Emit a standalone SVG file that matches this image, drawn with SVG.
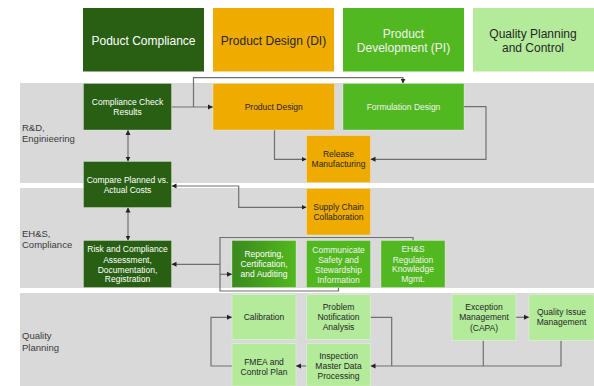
<svg xmlns="http://www.w3.org/2000/svg" width="594" height="386" viewBox="0 0 594 386">
<style>
text{font-family:"Liberation Sans",Arial,sans-serif;}
.hdr{font-size:12px;text-anchor:middle;}
.lbl{font-size:9.5px;fill:#3a3a3a;}
.nt{font-size:8.5px;text-anchor:middle;}
.w{fill:#ffffff;}
.d{fill:#262626;}
.dg{fill:#285F13;}
.or{fill:#F0AB00;}
.mg{fill:#51B81F;}
.lg{fill:#B3EB9B;}
.box{stroke:#ffffff;stroke-opacity:0.3;stroke-width:1;}
.band{fill:#D9D9D9;}
.c{fill:none;stroke:#707070;stroke-width:1.2;}
</style>
<defs>
<marker id="ah" markerUnits="userSpaceOnUse" markerWidth="6" markerHeight="6" refX="5" refY="3" orient="auto-start-reverse">
<path d="M0,0.5 L5,3 L0,5.5 Z" fill="#222"/>
</marker>
<linearGradient id="gr" x1="0" y1="0" x2="1" y2="0">
<stop offset="0" stop-color="#3A8A1C"/>
<stop offset="1" stop-color="#52B81F"/>
</linearGradient>
</defs>
<rect width="594" height="386" fill="#ffffff"/>
<g id="bands">
<rect class="band" x="20" y="83" width="574" height="100"/>
<rect class="band" x="20" y="188" width="574" height="100"/>
<rect class="band" x="20" y="293" width="574" height="93"/>
<text class="lbl" x="22" y="130.5">R&amp;D,</text>
<text class="lbl" x="22" y="141.5">Enginieering</text>
<text class="lbl" x="22" y="236.5">EH&amp;S,</text>
<text class="lbl" x="22" y="247.5">Compliance</text>
<text class="lbl" x="22" y="339">Quality</text>
<text class="lbl" x="22" y="350.5">Planning</text>
</g>
<g id="headers">
<g id="h-pc"><rect class="dg" x="83" y="8" width="121" height="63.5"/><text class="hdr w" x="143.5" y="44.5">Poduct Compliance</text></g>
<g id="h-pd"><rect class="or" x="213" y="8" width="121" height="63.5"/><text class="hdr d" x="273.5" y="44.5">Product Design (DI)</text></g>
<g id="h-pdev"><rect class="mg" x="343" y="8" width="121" height="63.5"/><text class="hdr" fill="#f2f2f2" x="403.5" y="37.5">Product</text><text class="hdr" fill="#f2f2f2" x="403.5" y="52">Development (PI)</text></g>
<g id="h-qp"><rect class="lg" x="473" y="8" width="121" height="63.5"/><text class="hdr d" x="533" y="37.5">Quality Planning</text><text class="hdr d" x="533" y="52">and Control</text></g>
</g>
<g id="connectors">
<path class="c" d="M171.5,107 H213" marker-end="url(#ah)"/>
<path class="c" d="M193.5,107 V77.7 H403 V83.5" marker-end="url(#ah)"/>
<path class="c" d="M274.5,130 V159.3 H306.5" marker-end="url(#ah)"/>
<path class="c" d="M464,106.7 H486 V159.3 H370.5" marker-end="url(#ah)"/>
<path class="c" d="M128,130 V161.5" marker-start="url(#ah)" marker-end="url(#ah)"/>
<path class="c" d="M171.5,186 H238.7 V207.3 H306.5" marker-start="url(#ah)" marker-end="url(#ah)"/>
<path class="c" d="M128,207.5 V240.5" marker-start="url(#ah)" marker-end="url(#ah)"/>
<path class="c" d="M220,264.3 H171.5" marker-end="url(#ah)"/>
<path class="c" d="M413,240.5 V237.5 H220 V291 H338.5 V287.5"/>
<path class="c" d="M220,274.3 H232" marker-end="url(#ah)"/>
<path class="c" d="M232,366 H211 V317.3 H232" marker-end="url(#ah)"/>
<path class="c" d="M306.5,366 H296" marker-end="url(#ah)"/>
<path class="c" d="M370.5,317.3 H391.7 V366"/>
<path class="c" d="M561,340.5 V366 H370.5" marker-end="url(#ah)"/>
<path class="c" d="M483.3,340.5 V366"/>
<path class="c" d="M516,317.3 H529" marker-end="url(#ah)"/>
</g>
<g id="n-cc"><rect class="dg box" x="83.5" y="83.5" width="88" height="46.5"/><text class="nt w" x="127.5" y="104.7">Compliance Check</text><text class="nt w" x="127.5" y="114.7">Results</text></g>
<g id="n-cp"><rect class="dg box" x="83.5" y="161.5" width="88" height="46"/><text class="nt w" x="127.5" y="183">Compare Planned vs.</text><text class="nt w" x="127.5" y="193">Actual Costs</text></g>
<g id="n-risk"><rect class="dg box" x="83.5" y="240.5" width="88" height="47"/><text class="nt w" x="127.5" y="252.3">Risk and Compliance</text><text class="nt w" x="127.5" y="262.6">Assessment,</text><text class="nt w" x="127.5" y="272.6">Documentation,</text><text class="nt w" x="127.5" y="282.3">Registration</text></g>
<g id="n-pd"><rect class="or box" x="213" y="83.5" width="121.5" height="46.5"/><text class="nt d" x="273.7" y="109.7">Product Design</text></g>
<g id="n-fd"><rect class="mg box" x="343" y="83.5" width="121" height="46.5"/><text class="nt" fill="#f2f2f2" x="403.5" y="109.7">Formulation Design</text></g>
<g id="n-rm"><rect class="or box" x="306.5" y="135.5" width="64" height="47"/><text class="nt d" x="338.5" y="157.3">Release</text><text class="nt d" x="338.5" y="167.3">Manufacturing</text></g>
<g id="n-sc"><rect class="or box" x="306.5" y="188.5" width="64" height="46.5"/><text class="nt d" x="338.5" y="209.7">Supply Chain</text><text class="nt d" x="338.5" y="219.7">Collaboration</text></g>
<g id="n-rep"><rect fill="url(#gr)" class="box" x="232" y="240.5" width="64" height="47"/><text class="nt w" x="264" y="257.3">Reporting,</text><text class="nt w" x="264" y="267.3">Certification,</text><text class="nt w" x="264" y="277">and Auditing</text></g>
<g id="n-comm"><rect class="mg box" x="306.5" y="240.5" width="64" height="47"/><text class="nt" fill="#f2f2f2" x="338.5" y="253">Communicate</text><text class="nt" fill="#f2f2f2" x="338.5" y="263">Safety and</text><text class="nt" fill="#f2f2f2" x="338.5" y="273">Stewardship</text><text class="nt" fill="#f2f2f2" x="338.5" y="283">Information</text></g>
<g id="n-ehs"><rect class="mg box" x="381" y="240.5" width="64" height="47"/><text class="nt" fill="#f2f2f2" x="413" y="252.3">EH&amp;S</text><text class="nt" fill="#f2f2f2" x="413" y="262.6">Regulation</text><text class="nt" fill="#f2f2f2" x="413" y="272.3">Knowledge</text><text class="nt" fill="#f2f2f2" x="413" y="282.3">Mgmt.</text></g>
<g id="n-cal"><rect class="lg box" x="232" y="294.5" width="64" height="45"/><text class="nt d" x="264" y="320.3">Calibration</text></g>
<g id="n-fmea"><rect class="lg box" x="232" y="343.5" width="64" height="42.5"/><text class="nt d" x="264" y="364.7">FMEA and</text><text class="nt d" x="264" y="374.7">Control Plan</text></g>
<g id="n-pna"><rect class="lg box" x="306.5" y="294.5" width="64" height="45"/><text class="nt d" x="338.5" y="310">Problem</text><text class="nt d" x="338.5" y="320.3">Notification</text><text class="nt d" x="338.5" y="330.3">Analysis</text></g>
<g id="n-imd"><rect class="lg box" x="306.5" y="343.5" width="64" height="42.5"/><text class="nt d" x="338.5" y="359">Inspection</text><text class="nt d" x="338.5" y="369.3">Master Data</text><text class="nt d" x="338.5" y="379">Processing</text></g>
<g id="n-exc"><rect class="lg box" x="452" y="294.5" width="64" height="46"/><text class="nt d" x="484" y="310">Exception</text><text class="nt d" x="484" y="320.3">Management</text><text class="nt d" x="484" y="330.5">(CAPA)</text></g>
<g id="n-qim"><rect class="lg box" x="529" y="294.5" width="65" height="46"/><text class="nt d" x="561.5" y="315.3">Quality Issue</text><text class="nt d" x="561.5" y="325.3">Management</text></g>
</svg>
